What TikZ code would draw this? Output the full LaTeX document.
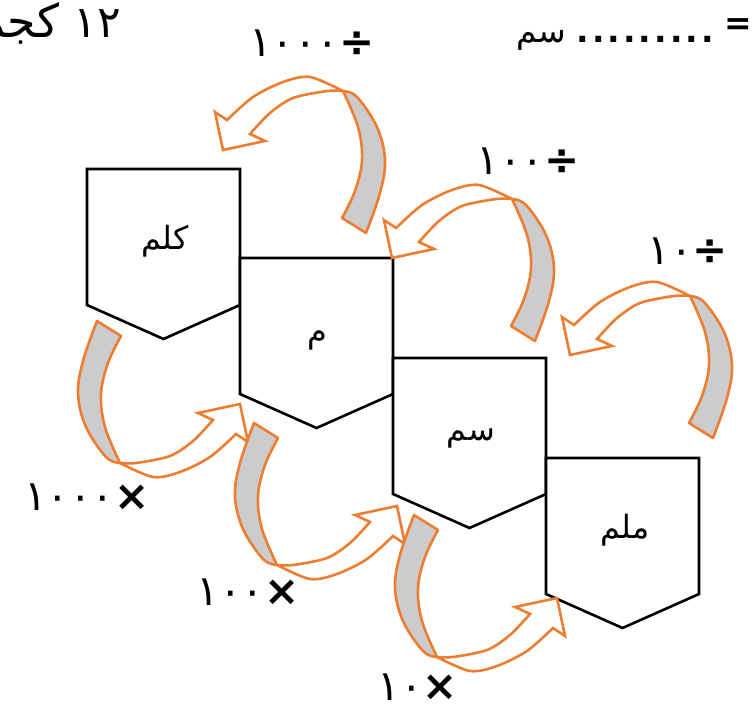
\documentclass[tikz,border=0pt]{standalone}
\usepackage{fontspec}
\setmainfont{DejaVu Sans}
\newfontfamily\arabicfont[Script=Arabic]{DejaVu Sans}
\TeXXeTstate=1
\usetikzlibrary{positioning}
\definecolor{arrorange}{RGB}{237,125,49}
\definecolor{backgray}{RGB}{204,204,204}
\tikzset{unitbox/.style={draw=black, line width=2.6pt, fill=white}}
\tikzset{unitname/.style={font=\arabicfont\fontsize{32}{38}\selectfont, inner sep=0pt}}
\tikzset{factor/.style={font=\arabicfont\fontsize{42}{48}\selectfont, inner sep=0pt}}
\tikzset{headline/.style={font=\arabicfont\fontsize{33}{40}\selectfont, inner sep=0pt}}
\tikzset{backband/.style={draw=arrorange, fill=backgray, line width=2.6pt, line join=round}}
\tikzset{frontband/.style={draw=arrorange, fill=white, line width=2.6pt}}
\tikzset{bentarrow/.pic={
	% grey back side, from the twist down to the tail
	\filldraw[backband] plot[smooth, tension=0.6] coordinates {(0,0) (15,36) (19,69) (12,100) (-1,127)}
		-- plot[smooth, tension=0.6] coordinates {(23,142) (37,102) (42,69) (34,36) (14,6) (0,0)} -- cycle;
	% white front side with the head
	\filldraw[frontband] plot[smooth] coordinates {(0,0) (-33,-14) (-60,-9) (-90,6) (-116,29)}
		-- (-128,21) -- (-120,59) -- (-78,50) -- (-93,43)
		-- plot[smooth] coordinates {(-93,43) (-73,22) (-50,7) (-16,0) (0,0)} -- cycle;
}}
\newcommand{\blankdots}{.\kern3pt.\kern3pt.\kern3pt.\kern3pt.\kern3pt.\kern3pt.\kern3pt.\kern3pt.}

\begin{document}
\begin{tikzpicture}[x=1pt, y=-1pt]
\useasboundingbox (0,0) rectangle (755,707);
\clip (0,0) rectangle (755,707);

\node[headline, anchor=base east] (mass) at (121,37)
	{\beginR\beginL{\fontsize{44}{50}\selectfont ١٢}\endL\hspace{14pt}{\fontsize{46}{52}\selectfont كجم}\endR};
\node[headline, anchor=base east] (blank) at (752,42)
	{\beginR \raisebox{8pt}{\bfseries =}\ \beginL{\bfseries\blankdots}\endL\ سم\endR};

\draw[unitbox] (87,169) -- (240,169) -- (240,305) -- (163.5,339) -- (87,305) -- cycle;
\draw[unitbox] (240,258) -- (393,258) -- (393,394) -- (316.5,428) -- (240,394) -- cycle;
\draw[unitbox] (393,358) -- (546,358) -- (546,494) -- (469.5,528) -- (393,494) -- cycle;
\draw[unitbox] (546,458) -- (699,458) -- (699,594) -- (622.5,628) -- (546,594) -- cycle;

\node[unitname] (km) at (165,241) {\beginR كلم\endR};
\node[unitname] (m) at (317,340) {\beginR م\endR};
\node[unitname] (cm) at (471,438) {\beginR سم\endR};
\node[unitname] (mm) at (625,530) {\beginR ملم\endR};

% dividing: going up
\pic at (343,91) {bentarrow};
\pic at (512,199) {bentarrow};
\pic at (690,296) {bentarrow};
% multiplying: going down
\pic[rotate=180] at (120,463) {bentarrow};
\pic[rotate=180] at (277,565) {bentarrow};
\pic[rotate=180] at (437,657) {bentarrow};

\node[factor] (div1000) at (312,43) {\beginR{\bfseries ÷}\beginL ١٠٠٠\endL\endR};
\node[factor] (div100) at (528,161) {\beginR{\bfseries ÷}\beginL ١٠٠\endL\endR};
\node[factor] (div10) at (688,251) {\beginR{\bfseries ÷}\beginL ١٠\endL\endR};
\node[factor] (mul1000) at (87,497) {\beginR{\bfseries ×}\beginL ١٠٠٠\endL\endR};
\node[factor] (mul100) at (248,592) {\beginR{\bfseries ×}\beginL ١٠٠\endL\endR};
\node[factor, anchor=base, text depth=0pt] (mul10) at (418,700) {\beginR{\bfseries ×}\beginL ١٠\endL\endR};
\end{tikzpicture}
\end{document}
